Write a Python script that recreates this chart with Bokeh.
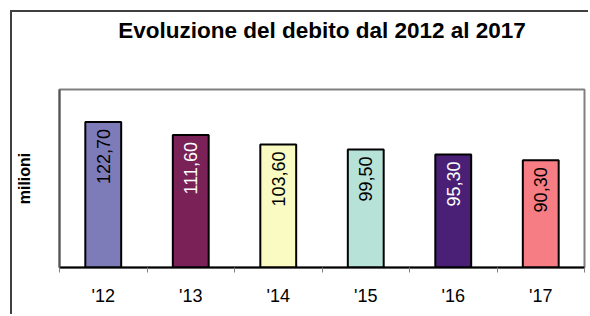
import math
from bokeh.plotting import figure
from bokeh.models import ColumnDataSource, FixedTicker, Range1d, Title
from bokeh.core.properties import value
from bokeh.embed import file_html
from bokeh.resources import INLINE

years = ["'12", "'13", "'14", "'15", "'16", "'17"]
debt = [122.70, 111.60, 103.60, 99.50, 95.30, 90.30]
colors = ["#7E7CB8", "#7A2258", "#FAFAC3", "#B6E2D8", "#4A2077", "#F77D84"]
label_colors = ["black", "white", "black", "black", "white", "black"]
title_text = "Evoluzione del debito dal 2012 al 2017"

FONT = "Liberation Sans"

xs = [i + 0.5 for i in range(len(years))]
labels = [f"{v:.2f}".replace(".", ",") for v in debt]
src = ColumnDataSource(dict(x=xs, top=debt, color=colors, lab=labels, lc=label_colors))

p = figure(width=578, height=304, output_backend="svg", toolbar_location=None,
           title=None,
           x_range=Range1d(0, len(years)), y_range=Range1d(0, 150),
           min_border_left=46, min_border_right=6, min_border_top=77, min_border_bottom=49)
p.margin = (10, 0, 0, 10)
p.styles = {"border-left": "2px solid #404040", "border-top": "2px solid #404040"}

# spacer between frame and title
p.add_layout(Title(text=" ", text_font_size="1px", standoff=44), "above")
p.add_layout(Title(text=title_text, align="center", vertical_align="bottom",
                   text_font=FONT, text_font_size="22.5px", text_font_style="bold",
                   text_color="black", standoff=0), "above")

p.vbar(x="x", top="top", width=0.41, bottom=0, source=src, fill_color="color",
       line_color="black", line_width=2)
p.text(x="x", y="top", text="lab", source=src, angle=math.pi / 2,
       text_align="right", text_baseline="middle", y_offset=7,
       text_font=value(FONT), text_font_size="18px", text_color="lc")

p.xgrid.visible = False
p.ygrid.visible = False
p.outline_line_color = "#808080"
p.outline_line_width = 2
p.background_fill_color = "white"
p.border_fill_color = "white"

xa = p.xaxis[0]
xa.ticker = FixedTicker(ticks=xs, minor_ticks=list(range(len(years) + 1)))
xa.major_label_overrides = {x: y for x, y in zip(xs, years)}
xa.major_tick_out = 0
xa.major_tick_in = 0
xa.minor_tick_out = 5
xa.minor_tick_in = 0
xa.minor_tick_line_color = "#808080"
xa.axis_line_color = "black"
xa.axis_line_width = 2
xa.major_label_standoff = 13
xa.major_label_text_font = FONT
xa.major_label_text_font_size = "18px"
xa.major_label_text_color = "black"

ya = p.yaxis[0]
ya.ticker = FixedTicker(ticks=[])
ya.major_tick_out = 0
ya.minor_tick_out = 0
ya.major_label_text_font_size = "0px"
ya.axis_line_color = "#555555"
ya.axis_line_width = 2
ya.axis_label = "milioni"
ya.axis_label_text_font = FONT
ya.axis_label_text_font_size = "16px"
ya.axis_label_text_font_style = "bold"
ya.axis_label_text_color = "black"
ya.axis_label_standoff = 27

open("out.html", "w").write(file_html(p, INLINE))
